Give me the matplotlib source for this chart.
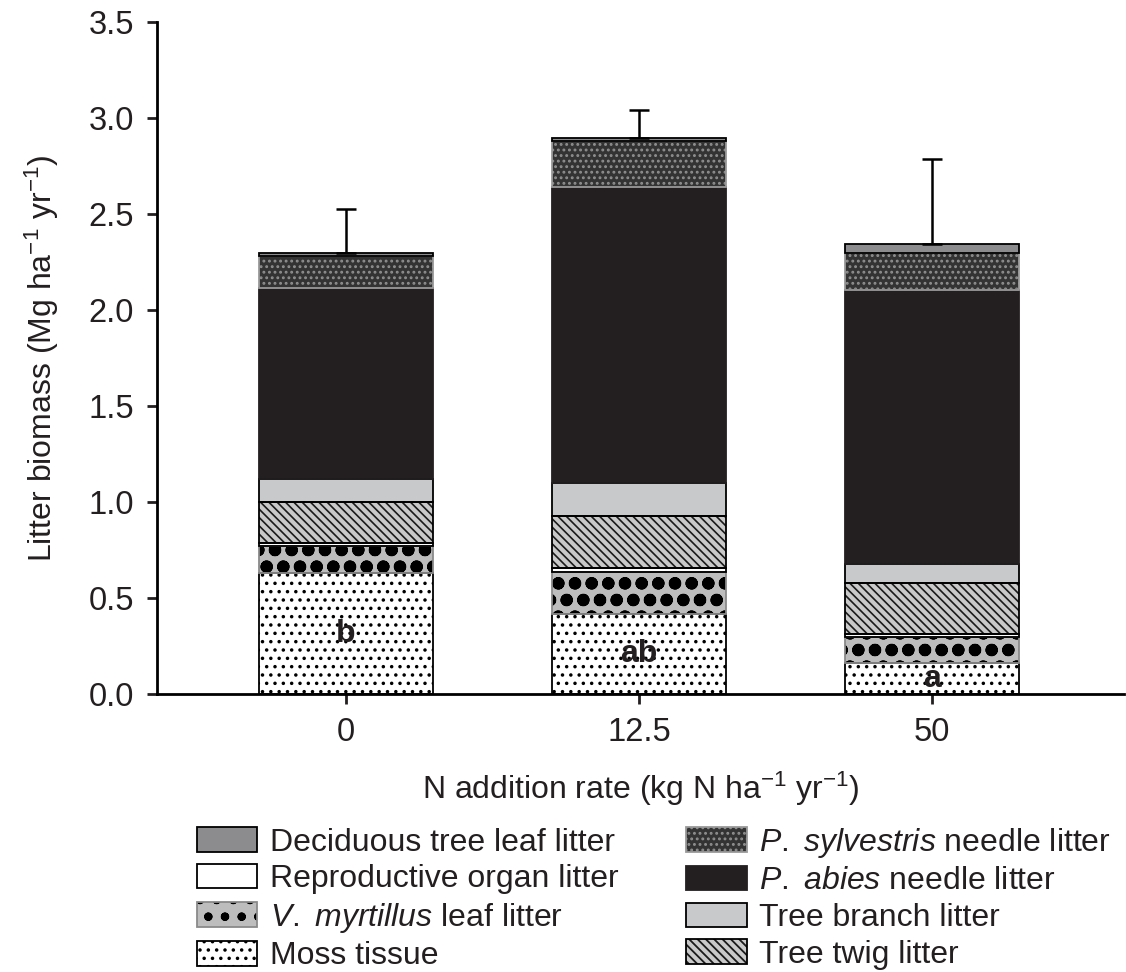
import matplotlib
matplotlib.use("Agg")
import matplotlib.pyplot as plt
import numpy as np
from matplotlib.patches import Patch

plt.rcParams["font.family"] = ["Liberation Sans", "DejaVu Sans"]
plt.rcParams["mathtext.fontset"] = "custom"
plt.rcParams["mathtext.rm"] = "Liberation Sans"
plt.rcParams["mathtext.it"] = "Liberation Sans:italic"
plt.rcParams["hatch.linewidth"] = 1.3

rates = ["0", "12.5", "50"]
letters = ["b", "ab", "a"]

# stacked components, bottom to top (Mg ha-1 yr-1)
moss = [0.63, 0.415, 0.16]
myrtillus = [0.14, 0.22, 0.135]
reproductive = [0.015, 0.022, 0.015]
twig = [0.215, 0.272, 0.27]
branch = [0.12, 0.17, 0.095]
abies = [0.995, 1.54, 1.43]
sylvestris = [0.165, 0.24, 0.19]
deciduous = [0.017, 0.015, 0.05]
err_up = [0.23, 0.15, 0.44]

LBL_MOSS = "Moss tissue"
LBL_MYRT = r"$\it{V.}$ $\it{myrtillus}$ leaf litter"
LBL_REPRO = "Reproductive organ litter"
LBL_TWIG = "Tree twig litter"
LBL_BRANCH = "Tree branch litter"
LBL_ABIES = r"$\it{P.}$ $\it{abies}$ needle litter"
LBL_SYLV = r"$\it{P.}$ $\it{sylvestris}$ needle litter"
LBL_DECID = "Deciduous tree leaf litter"

# label, values, face, hatch, hatch colour, outline colour, hatch linewidth
components = [
    (LBL_MOSS, moss, "white", "..", "black", "black", 1.3),
    (LBL_MYRT, myrtillus, "#bdbdbd", "o.", "black", "#8a8a8a", 4.2),
    (LBL_REPRO, reproductive, "white", None, "black", "black", 1.3),
    (LBL_TWIG, twig, "#c9c9c9", "\\\\\\\\", "#1a1a1a", "black", 1.2),
    (LBL_BRANCH, branch, "#c8c9cb", None, "black", "black", 1.3),
    (LBL_ABIES, abies, "#231f20", None, "#231f20", "#231f20", 1.3),
    (LBL_SYLV, sylvestris, "#333333", "...", "#8f8f8f", "#9a9a9a", 1.3),
    (LBL_DECID, deciduous, "#8c8c8e", None, "black", "black", 1.3),
]

fig = plt.figure(figsize=(11.26, 9.72), dpi=100)
ax = fig.add_axes([0.1394, 0.286, 0.8586, 0.6914])

x = np.arange(len(rates))
width = 0.594
bottom = np.zeros(len(rates))
handles = {}
for label, vals, fc, hatch, hc, ec, hlw in components:
    vals = np.asarray(vals)
    with plt.rc_context({"hatch.linewidth": hlw}):
        bars = ax.bar(x, vals, width, bottom=bottom, color=fc, edgecolor=hc,
                      hatch=hatch, linewidth=0, zorder=2)
        hp = Patch(facecolor=fc, edgecolor=hc, hatch=hatch, linewidth=0)
    for p in list(bars) + [hp]:
        if hasattr(p, "set_hatch_linewidth"):
            p.set_hatch_linewidth(hlw)
    ax.bar(x, vals, width, bottom=bottom, fill=False, edgecolor=ec,
           linewidth=1.3, zorder=3)
    handles[label] = (hp, Patch(fill=False, edgecolor=ec, linewidth=1.3))
    bottom = bottom + vals

totals = bottom
ax.errorbar(x, totals, yerr=[np.zeros(len(rates)), err_up], fmt="none",
            ecolor="black", elinewidth=1.8, capsize=7.5, capthick=1.8, zorder=4)

for xi, m, t in zip(x, moss, letters):
    ax.text(xi, m / 2, t, ha="center", va="center", fontsize=23,
            fontweight="bold", color="#231f20", zorder=5)

ax.set_xlim(-0.645, 2.655)
ax.set_ylim(0, 3.5)
ax.set_yticks(np.arange(0, 3.51, 0.5))
ax.set_yticklabels([f"{v:.1f}" for v in np.arange(0, 3.51, 0.5)])
ax.set_xticks(x)
ax.set_xticklabels(rates)
ax.spines["top"].set_visible(False)
ax.spines["right"].set_visible(False)
for s in ("left", "bottom"):
    ax.spines[s].set_linewidth(2.0)
ax.tick_params(axis="both", labelsize=23.5, length=7.5, width=2.0, pad=9,
               color="#231f20", labelcolor="#231f20")

ax.set_ylabel(r"Litter biomass (Mg ha$^{-1}$ yr$^{-1}$)", fontsize=23,
              color="#231f20", labelpad=20)
ax.set_xlabel(r"N addition rate (kg N ha$^{-1}$ yr$^{-1}$)", fontsize=23,
              color="#231f20", labelpad=16)

order = [LBL_DECID, LBL_REPRO, LBL_MYRT, LBL_MOSS,
         LBL_SYLV, LBL_ABIES, LBL_BRANCH, LBL_TWIG]
fig.legend([handles[k] for k in order], order, ncol=2, frameon=False,
           loc="upper left", bbox_to_anchor=(0.1605, 0.167),
           fontsize=23, handlelength=1.9, handleheight=0.8,
           handletextpad=0.4, labelspacing=0.2, columnspacing=2.1,
           borderpad=0, labelcolor="#231f20")

fig.savefig("out.png", dpi=100)
